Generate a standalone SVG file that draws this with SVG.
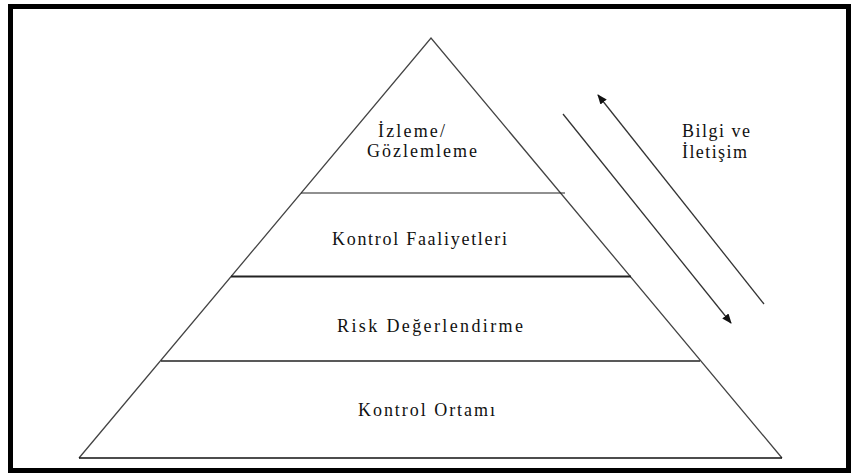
<svg xmlns="http://www.w3.org/2000/svg" width="856" height="475" viewBox="0 0 856 475">
  <style>
    .lbl { font-family: "Liberation Serif", "DejaVu Serif", serif; font-size: 18px; fill: #111; }
    .edge { fill: none; stroke: #444; stroke-width: 1.3; stroke-linejoin: miter; }
    .tier { stroke: #222; fill: none; }
    .flow { stroke: #333; stroke-width: 1.3; fill: none; }
  </style>
  <defs>
    <marker id="head" viewBox="0 0 10 8" refX="9" refY="4" markerWidth="10" markerHeight="8" markerUnits="userSpaceOnUse" orient="auto">
      <path d="M0,0 L10,4 L0,8 Z" fill="#111"/>
    </marker>
  </defs>

  <rect width="856" height="475" fill="#fff"/>
  <!-- outer frame -->
  <rect x="10.5" y="6.5" width="838" height="464" fill="none" stroke="#000" stroke-width="5"/>

  <!-- pyramid outline -->
  <g id="pyramid">
    <path class="edge" d="M79,458 L431,38 L782,458"/>
    <line x1="79" y1="458" x2="782" y2="458" stroke="#111" stroke-width="1.5"/>
  </g>

  <!-- tier dividers -->
  <g id="dividers">
    <line class="tier" x1="301" y1="193" x2="565" y2="193" stroke-width="1.1"/>
    <line class="tier" x1="231" y1="276.5" x2="631" y2="276.5" stroke-width="2" stroke="#000"/>
    <line class="tier" x1="161" y1="361" x2="700" y2="361" stroke-width="1.4"/>
  </g>

  <!-- tiers -->
  <g id="izleme">
    <text class="lbl" x="378" y="137" textLength="67" lengthAdjust="spacing">İzleme/</text>
    <text class="lbl" x="367" y="157" textLength="110" lengthAdjust="spacing">Gözlemleme</text>
  </g>
  <g id="kontrol-faaliyetleri">
    <text class="lbl" x="332" y="245" textLength="175" lengthAdjust="spacing">Kontrol Faaliyetleri</text>
  </g>
  <g id="risk-degerlendirme">
    <text class="lbl" x="337" y="332" textLength="186" lengthAdjust="spacing">Risk Değerlendirme</text>
  </g>
  <g id="kontrol-ortami">
    <text class="lbl" x="358" y="416" textLength="137" lengthAdjust="spacing">Kontrol Ortamı</text>
  </g>

  <!-- information and communication label -->
  <g id="bilgi-iletisim">
    <text class="lbl" x="682" y="137" textLength="68" lengthAdjust="spacing">Bilgi ve</text>
    <text class="lbl" x="682" y="158" textLength="65" lengthAdjust="spacing">İletişim</text>
  </g>

  <!-- flow arrows -->
  <g id="connectors">
    <line class="flow" x1="764" y1="304" x2="598" y2="95" marker-end="url(#head)"/>
    <line class="flow" x1="563" y1="114" x2="731" y2="323" marker-end="url(#head)"/>
  </g>
</svg>
